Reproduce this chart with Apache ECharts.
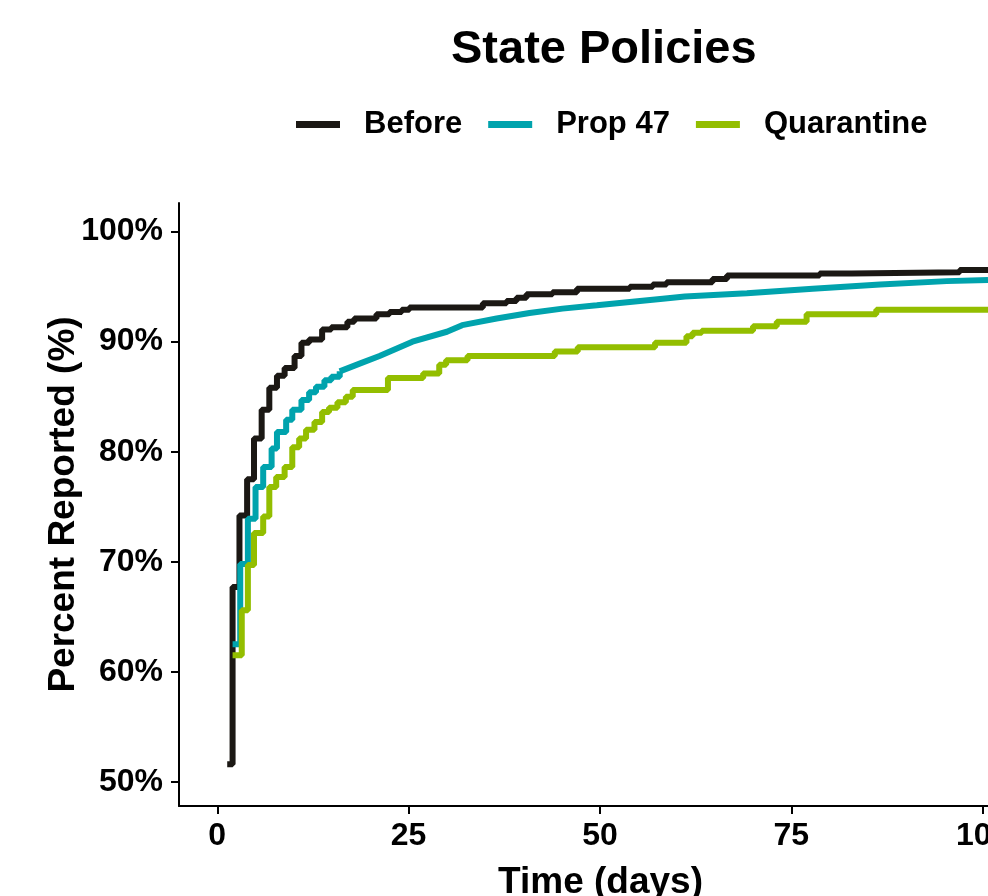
<!DOCTYPE html>
<html>
<head>
<meta charset="utf-8">
<title>State Policies</title>
<script src="https://cdn.jsdelivr.net/npm/echarts@6/dist/echarts.min.js"></script>
<style>
	html, body { margin: 0; padding: 0; background: #fff; }
	#chart { width: 988px; height: 896px; }
</style>
</head>
<body>
<div id="chart"></div>
<script>
// values: time in days, share reported in %
var beforeDays = [1.3, 2.0, 2.9, 3.9, 4.8, 5.8, 6.8, 7.8, 8.8, 10.1, 11.0, 12.0, 13.7, 14.9, 17.0, 17.9, 20.8, 22.5, 24.1, 25.1, 34.7, 37.8, 39.1, 40.4, 43.8, 47.0, 53.9, 56.9, 58.7, 64.7, 66.6, 78.7, 82.9, 97.0, 100.7];
var beforePct = [51.6, 67.7, 74.2, 77.5, 81.2, 83.8, 85.8, 86.9, 87.6, 88.7, 89.9, 90.2, 91.1, 91.3, 91.8, 92.1, 92.5, 92.7, 92.9, 93.1, 93.5, 93.7, 94.0, 94.3, 94.5, 94.8, 95.0, 95.2, 95.4, 95.7, 96.0, 96.2, 96.3, 96.5, 96.5];

// Prop 47: clear stairs early on, almost smooth later
var propEarlyDays = [2.0, 3.0, 4.0, 5.0, 6.0, 7.1, 7.8, 9.0, 9.8, 11.0, 12.0, 12.9, 14.0, 14.9, 16.0];
var propEarlyPct = [62.5, 69.8, 73.9, 76.8, 78.6, 80.3, 81.8, 82.9, 83.8, 84.7, 85.4, 85.9, 86.5, 86.8, 87.3];
var propLateDays = [16.0, 18.6, 21.2, 25.5, 30.0, 32.0, 36.5, 40.8, 45.1, 49.6, 53.9, 58.2, 61.1, 69.2, 77.8, 86.6, 95.3, 100.7];
var propLatePct = [87.3, 88.0, 88.7, 90.0, 90.9, 91.5, 92.1, 92.6, 93.0, 93.3, 93.6, 93.9, 94.1, 94.4, 94.8, 95.2, 95.5, 95.6];

var quarDays = [2.0, 3.2, 4.0, 4.8, 6.0, 6.8, 7.7, 8.8, 9.8, 10.7, 11.6, 12.7, 13.7, 14.6, 15.7, 16.8, 17.7, 22.3, 26.9, 29.0, 29.9, 32.7, 44.1, 47.1, 57.2, 61.3, 62.1, 63.3, 70.0, 73.1, 77.0, 86.1, 100.7];
var quarPct = [61.5, 65.6, 69.7, 72.6, 74.1, 76.8, 77.7, 78.6, 80.4, 81.2, 82.0, 82.7, 83.6, 84.0, 84.5, 85.0, 85.6, 86.7, 87.1, 87.9, 88.3, 88.7, 89.1, 89.5, 89.9, 90.5, 90.8, 91.0, 91.4, 91.8, 92.5, 92.9, 92.9];

var xTicks = [0, 25, 50, 75, 100];
var yTicks = [50, 60, 70, 80, 90, 100];

var font = 'Liberation Sans, Arial, sans-serif';

function pairs(xs, ys) {
	var out = [];
	for (var i = 0; i < xs.length; i++) {
		out.push([xs[i], ys[i]]);
	}
	return out;
}

var myChart = echarts.init(document.getElementById('chart'));

var option = {
	animation: false,
	title: {
		text: 'State Policies',
		left: 446,
		top: 22,
		textStyle: {
			color: '#000',
			fontFamily: font,
			fontWeight: 'bold',
			fontSize: 47
		}
	},
	legend: {
		data: ['Before', 'Prop 47', 'Quarantine'],
		left: 291,
		top: 104,
		icon: 'rect',
		itemWidth: 44,
		itemHeight: 7,
		itemGap: 26,
		textStyle: {
			color: '#000',
			fontFamily: font,
			fontWeight: 'bold',
			fontSize: 31,
			padding: [0, 0, 0, 19]
		}
	},
	grid: {
		left: 179,
		right: 0,
		top: 203,
		bottom: 90,
		outerBoundsMode: 'none'
	},
	xAxis: {
		type: 'value',
		min: -5,
		max: 100.7,
		name: 'Time (days)',
		nameLocation: 'middle',
		nameGap: 58,
		nameMoveOverlap: false,
		nameTextStyle: {
			color: '#000',
			fontFamily: font,
			fontWeight: 'bold',
			fontSize: 37,
			padding: [0, 0, 0, 34]
		},
		axisLine: {
			onZero: false,
			lineStyle: { color: '#000', width: 2 }
		},
		axisTick: {
			customValues: xTicks,
			length: 8,
			lineStyle: { color: '#000', width: 2 }
		},
		axisLabel: {
			customValues: xTicks,
			margin: 14,
			color: '#000',
			fontFamily: font,
			fontWeight: 'bold',
			fontSize: 32
		},
		splitLine: { show: false }
	},
	yAxis: {
		type: 'value',
		min: 47.8,
		max: 102.6,
		name: 'Percent Reported (%)',
		nameLocation: 'middle',
		nameGap: 97,
		nameMoveOverlap: false,
		nameTextStyle: {
			color: '#000',
			fontFamily: font,
			fontWeight: 'bold',
			fontSize: 37
		},
		axisLine: {
			show: true,
			onZero: false,
			lineStyle: { color: '#000', width: 2 }
		},
		axisTick: {
			show: true,
			customValues: yTicks,
			length: 8,
			lineStyle: { color: '#000', width: 2 }
		},
		axisLabel: {
			customValues: yTicks,
			margin: 16,
			color: '#000',
			fontFamily: font,
			fontWeight: 'bold',
			fontSize: 32,
			formatter: function(v) {
				return v + '%';
			}
		},
		splitLine: { show: false }
	},
	series: [{
		name: 'Before',
		type: 'line',
		step: 'end',
		showSymbol: false,
		color: '#1b1814',
		lineStyle: { width: 6 },
		data: pairs(beforeDays, beforePct)
	}, {
		name: 'Prop 47',
		type: 'line',
		step: 'end',
		showSymbol: false,
		color: '#00a3ad',
		lineStyle: { width: 6 },
		data: pairs(propEarlyDays, propEarlyPct)
	}, {
		name: 'Prop 47',
		type: 'line',
		showSymbol: false,
		color: '#00a3ad',
		lineStyle: { width: 6 },
		data: pairs(propLateDays, propLatePct)
	}, {
		name: 'Quarantine',
		type: 'line',
		step: 'end',
		showSymbol: false,
		color: '#93be00',
		lineStyle: { width: 6 },
		data: pairs(quarDays, quarPct)
	}]
};

myChart.setOption(option);
window.addEventListener('resize', function() {
	myChart.resize();
});
</script>
</body>
</html>
